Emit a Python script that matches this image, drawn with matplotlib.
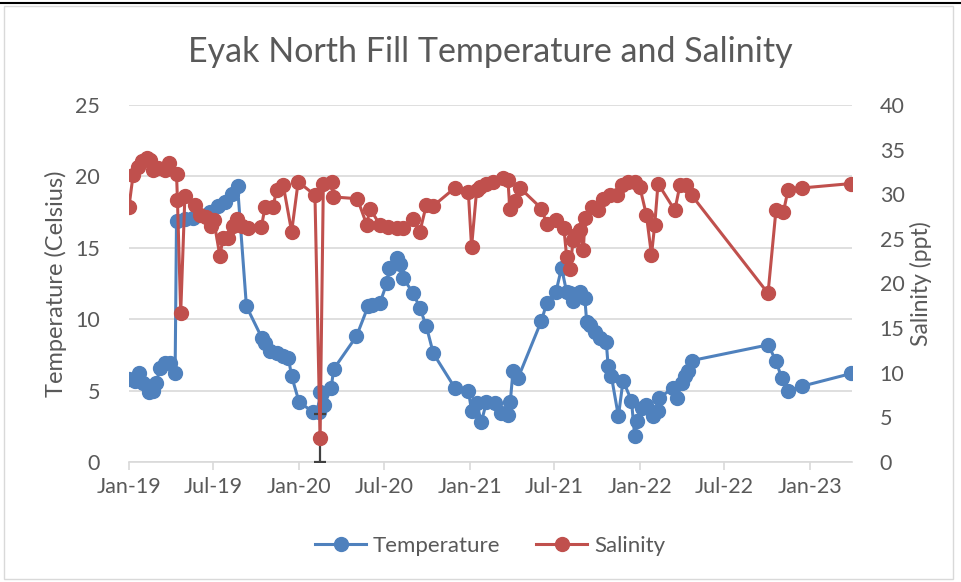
"""Recreate the Eyak North Fill temperature and salinity chart."""

import matplotlib

matplotlib.use("Agg")

import matplotlib.dates as mdates
import matplotlib.pyplot as plt
import pandas as pd
from matplotlib.lines import Line2D


TEMP_DATES = [
    "2019-01-01", "2019-01-14", "2019-01-22", "2019-02-01", "2019-02-14",
    "2019-02-22", "2019-03-01", "2019-03-08", "2019-03-19", "2019-03-30",
    "2019-04-10", "2019-04-13", "2019-05-01", "2019-05-19", "2019-06-24",
    "2019-07-12", "2019-07-26", "2019-08-09", "2019-08-22", "2019-09-10",
    "2019-10-13", "2019-10-20", "2019-10-30", "2019-11-14", "2019-11-28",
    "2019-12-09", "2019-12-16", "2020-01-01", "2020-01-31", "2020-02-12",
    "2020-02-14", "2020-02-24", "2020-03-10", "2020-03-15", "2020-05-03",
    "2020-05-28", "2020-06-05", "2020-06-22", "2020-07-07", "2020-07-12",
    "2020-07-28", "2020-08-04", "2020-08-11", "2020-09-02", "2020-09-16",
    "2020-09-30", "2020-10-15", "2020-11-30", "2020-12-29", "2021-01-05",
    "2021-01-16", "2021-01-26", "2021-02-06", "2021-02-24", "2021-03-10",
    "2021-03-24", "2021-03-29", "2021-04-04", "2021-04-15", "2021-06-04",
    "2021-06-15", "2021-07-05", "2021-07-17", "2021-07-28", "2021-08-04",
    "2021-08-11", "2021-08-25", "2021-09-05", "2021-09-09", "2021-09-16",
    "2021-09-27", "2021-10-07", "2021-10-21", "2021-10-25", "2021-11-01",
    "2021-11-16", "2021-11-26", "2021-12-14", "2021-12-21", "2021-12-25",
    "2022-01-05", "2022-01-15", "2022-01-30", "2022-02-09", "2022-02-12",
    "2022-03-14", "2022-03-21", "2022-04-01", "2022-04-08", "2022-04-15",
    "2022-04-22", "2022-10-03", "2022-10-20", "2022-11-01", "2022-11-15",
    "2022-12-14", "2023-03-31",
]

TEMP_VALUES = [
    5.8, 5.7, 6.2, 5.5, 4.9,
    5.0, 5.5, 6.6, 6.9, 6.9,
    6.2, 16.9, 17.0, 17.1, 17.5,
    17.9, 18.2, 18.8, 19.3, 10.9,
    8.7, 8.3, 7.8, 7.6, 7.4,
    7.3, 6.0, 4.2, 3.5, 3.5,
    4.9, 4.0, 5.2, 6.5, 8.8,
    10.9, 11.0, 11.1, 12.5, 13.6,
    14.3, 13.9, 12.9, 11.8, 10.8,
    9.5, 7.6, 5.2, 5.0, 3.6,
    4.1, 2.8, 4.2, 4.1, 3.4,
    3.3, 4.2, 6.4, 5.9, 9.9,
    11.1, 11.9, 13.6, 11.9, 11.8,
    11.3, 11.9, 11.45, 9.8, 9.6,
    9.1, 8.7, 8.4, 6.7, 6.0,
    3.2, 5.7, 4.3, 1.8, 2.9,
    3.8, 4.0, 3.2, 3.6, 4.5,
    5.2, 4.5, 5.5, 6.0, 6.4,
    7.1, 8.2, 7.1, 5.9, 5.0,
    5.3, 6.2,
]

SAL_DATES = [
    "2019-01-01", "2019-01-10", "2019-01-21", "2019-01-28", "2019-02-08",
    "2019-02-15", "2019-02-22", "2019-03-05", "2019-03-19", "2019-03-28",
    "2019-04-13", "2019-04-15", "2019-04-22", "2019-05-01", "2019-05-22",
    "2019-06-02", "2019-06-16", "2019-06-27", "2019-07-02", "2019-07-15",
    "2019-07-22", "2019-08-02", "2019-08-13", "2019-08-20", "2019-08-31",
    "2019-09-14", "2019-10-12", "2019-10-20", "2019-11-06", "2019-11-14",
    "2019-11-28", "2019-12-16", "2019-12-30", "2020-02-04", "2020-02-15",
    "2020-02-22", "2020-03-11", "2020-03-14", "2020-05-05", "2020-05-25",
    "2020-06-01", "2020-06-22", "2020-07-10", "2020-07-28", "2020-08-11",
    "2020-09-02", "2020-09-16", "2020-09-30", "2020-10-15", "2020-11-30",
    "2020-12-29", "2021-01-05", "2021-01-16", "2021-01-23", "2021-02-06",
    "2021-02-20", "2021-03-14", "2021-03-24", "2021-03-28", "2021-04-08",
    "2021-04-19", "2021-06-04", "2021-06-15", "2021-07-06", "2021-07-22",
    "2021-07-28", "2021-08-04", "2021-08-11", "2021-08-18", "2021-08-25",
    "2021-09-02", "2021-09-05", "2021-09-20", "2021-10-04", "2021-10-15",
    "2021-10-29", "2021-11-12", "2021-11-23", "2021-12-07", "2021-12-21",
    "2022-01-01", "2022-01-15", "2022-01-26", "2022-02-02", "2022-02-09",
    "2022-03-17", "2022-03-28", "2022-04-11", "2022-04-22", "2022-10-03",
    "2022-10-20", "2022-11-05", "2022-11-15", "2022-12-14", "2023-03-31",
]

SAL_VALUES = [
    28.6, 32.2, 33.1, 33.7, 34.1,
    33.8, 32.7, 32.9, 32.7, 33.5,
    32.3, 29.4, 16.7, 29.8, 28.8,
    27.7, 27.4, 26.4, 27.1, 23.1,
    25.1, 25.1, 26.4, 27.2, 26.4,
    26.2, 26.3, 28.6, 28.6, 30.5,
    31.0, 25.8, 31.4, 29.9, 2.7,
    31.2, 31.4, 29.7, 29.5, 26.6,
    28.4, 26.6, 26.3, 26.2, 26.2,
    27.2, 25.8, 28.8, 28.7, 30.7,
    30.3, 24.1, 30.5, 30.8, 31.2,
    31.4, 31.8, 31.6, 28.4, 29.2,
    30.7, 28.4, 26.7, 27.1, 26.2,
    23.0, 21.6, 24.9, 25.4, 26.0,
    23.8, 27.3, 28.6, 28.2, 29.5,
    29.9, 29.9, 31.0, 31.4, 31.4,
    30.8, 27.7, 23.2, 26.6, 31.2,
    28.2, 31.0, 31.0, 29.9, 18.9,
    28.2, 28.0, 30.5, 30.7, 31.2,
]

# single error bar on the low salinity reading
ERROR_DATE = "2020-02-15"
ERROR_VALUE = 2.7
ERROR_SIZE = 2.7

X_MIN = "2019-01-01"
X_MAX = "2023-04-01"

BLUE = "#4F81BD"
RED = "#C0504D"
TEXT = "#595959"
GRID = "#D9D9D9"

FONT = ["Lato", "DejaVu Sans"]


def draw_chart() -> None:
    """Draw both series on twin y axes and save the figure."""

    plt.rcParams["font.family"] = FONT

    fig = plt.figure(figsize=(9.61, 5.82), dpi=100)
    ax = fig.add_axes([0.1342, 0.2062, 0.7523, 0.6134])
    ax2 = ax.twinx()

    temp_dates = pd.to_datetime(TEMP_DATES)
    sal_dates = pd.to_datetime(SAL_DATES)

    ax.plot(
        temp_dates,
        TEMP_VALUES,
        color=BLUE,
        linewidth=2.2,
        marker="o",
        markersize=10,
        zorder=3,
    )

    ax2.errorbar(
        [pd.Timestamp(ERROR_DATE)],
        [ERROR_VALUE],
        yerr=[ERROR_SIZE],
        fmt="none",
        ecolor="#404040",
        elinewidth=1.6,
        capsize=4.5,
        capthick=1.6,
        zorder=1,
    )

    ax2.plot(
        sal_dates,
        SAL_VALUES,
        color=RED,
        linewidth=2.2,
        marker="o",
        markersize=10,
        zorder=2,
    )

    ax.set_xlim(pd.Timestamp(X_MIN), pd.Timestamp(X_MAX))
    ax.set_ylim(0, 25)
    ax2.set_ylim(0, 40)
    ax.set_yticks(range(0, 26, 5))
    ax2.set_yticks(range(0, 41, 5))

    ax.xaxis.set_major_locator(mdates.MonthLocator(bymonth=[1, 7]))
    ax.xaxis.set_major_formatter(mdates.DateFormatter("%b-%y"))

    ax.grid(axis="y", color=GRID, linewidth=1.2)
    ax.set_axisbelow(True)

    for axis in (ax, ax2):
        for side in ("top", "left", "right", "bottom"):
            axis.spines[side].set_visible(False)

    ax.spines["bottom"].set_visible(True)
    ax.spines["bottom"].set_color(GRID)
    ax.spines["bottom"].set_linewidth(1.2)

    ax.tick_params(
        axis="x",
        colors=GRID,
        labelcolor=TEXT,
        labelsize=15.5,
        length=6,
        width=1.2,
        pad=5,
    )
    ax.tick_params(
        axis="y",
        length=0,
        labelcolor=TEXT,
        labelsize=15.5,
        pad=21,
    )
    ax2.tick_params(
        axis="y",
        length=0,
        labelcolor=TEXT,
        labelsize=15.5,
        pad=20,
    )

    ax.set_ylabel(
        "Temperature (Celsius)",
        color=TEXT,
        fontsize=17,
        labelpad=6,
    )
    ax2.set_ylabel(
        "Salinity (ppt)",
        color=TEXT,
        fontsize=16.5,
        labelpad=4,
    )

    fig.text(
        0.51,
        0.91,
        "Eyak North Fill Temperature and Salinity",
        ha="center",
        va="center",
        color=TEXT,
        fontsize=24.5,
    )

    handles = [
        Line2D([], [], color=BLUE, linewidth=2.2, marker="o", markersize=10),
        Line2D([], [], color=RED, linewidth=2.2, marker="o", markersize=10),
    ]

    legend = fig.legend(
        handles,
        ["Temperature", "Salinity"],
        loc="center",
        bbox_to_anchor=(0.51, 0.062),
        ncol=2,
        frameon=False,
        fontsize=16,
        handlelength=2.3,
        handletextpad=0.3,
        columnspacing=1.6,
    )
    for text in legend.get_texts():
        text.set_color(TEXT)

    # thin frame around the chart area, as in the source image
    fig.add_artist(
        Line2D([0, 1], [0.994, 0.994], color="black", linewidth=1.5)
    )
    fig.add_artist(
        plt.Rectangle(
            (0.004, 0.006),
            0.988,
            0.984,
            fill=False,
            edgecolor=GRID,
            linewidth=1,
        )
    )

    fig.savefig("out.png", dpi=100)
    plt.close(fig)


def main() -> None:
    """Build the chart."""

    draw_chart()


if __name__ == "__main__":
    main()
